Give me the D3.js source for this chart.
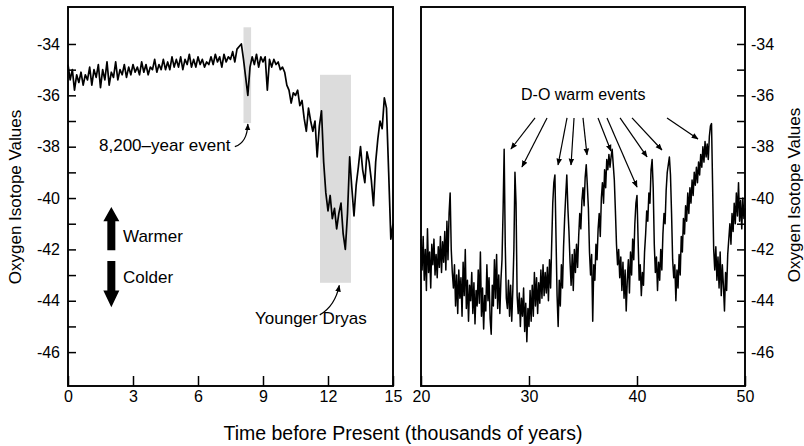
<!DOCTYPE html>
<html><head><meta charset="utf-8">
<script src="https://cdn.jsdelivr.net/npm/d3@7"></script>
<style>
html,body{margin:0;padding:0;background:#fff;}
svg{display:block;}
text{font-family:"Liberation Sans",Arial,Helvetica,sans-serif;fill:#000;}
</style>
</head><body>
<svg id="c" width="804" height="446"></svg>
<script>
// ---------- DATA ----------
const holoStart = 0, holoStep = 0.1;   // thousands of years before present
const holoValues = [
 -34.8,-35.4,-35.0,-35.8,-35.2,-35.5,-35.1,-35.6,-35.2,-35.4,
 -34.9,-35.6,-35.0,-35.3,-34.8,-35.7,-35.0,-35.4,-34.7,-35.6,
 -35.1,-35.3,-34.7,-35.4,-35.0,-35.2,-34.8,-35.3,-34.9,-35.2,
 -34.8,-35.1,-34.9,-35.2,-34.7,-35.1,-34.8,-35.2,-34.9,-35.0,
 -34.6,-35.1,-34.8,-35.0,-34.6,-35.0,-34.7,-35.0,-34.5,-34.9,
 -34.6,-34.9,-34.5,-35.0,-34.6,-34.8,-34.4,-34.9,-34.6,-34.9,
 -34.5,-34.8,-34.6,-34.9,-34.7,-34.8,-34.5,-34.8,-34.4,-34.7,
 -34.5,-34.9,-34.4,-34.7,-34.5,-34.6,-34.3,-34.7,-34.2,-34.1,
 -34.0,-34.6,-35.3,-36.0,-34.9,-34.5,-34.8,-34.4,-34.9,-34.5,
 -34.7,-34.5,-35.8,-34.6,-34.9,-34.6,-34.8,-34.7,-35.0,-34.9,
 -35.1,-35.6,-35.8,-36.3,-35.9,-36.0,-35.8,-36.4,-36.2,-36.9,
 -37.4,-36.5,-37.0,-37.4,-37.0,-38.4,-37.2,-36.6,-38.6,-39.8,
 -40.5,-39.9,-40.8,-40.4,-41.2,-40.6,-40.2,-41.4,-42.0,-40.6,
 -38.4,-39.6,-40.7,-39.5,-38.8,-38.0,-38.9,-39.4,-38.2,-38.6,
 -39.3,-40.3,-38.6,-37.7,-37.0,-37.3,-36.1,-36.5,-39.0,-41.6,
 -41.0
];
const glacStart = 20, glacStep = 0.1;
const glacValues = [
 -41.6,-42.8,-41.5,-43.2,-42.0,-43.6,-41.2,-42.9,-42.1,-43.5,
 -41.8,-42.6,-41.6,-43.0,-42.2,-43.1,-41.9,-42.7,-41.5,-42.9,
 -41.7,-42.5,-41.3,-42.8,-40.9,-42.4,-40.6,-39.8,-42.0,-42.9,
 -43.5,-42.6,-44.2,-43.0,-44.5,-42.8,-43.9,-43.1,-44.6,-42.5,
 -43.8,-42.0,-44.3,-43.2,-44.8,-43.4,-44.0,-42.9,-44.5,-43.3,
 -44.9,-43.6,-44.2,-42.8,-44.1,-42.1,-44.6,-43.5,-45.1,-43.8,
 -44.4,-42.6,-44.0,-43.1,-44.7,-45.3,-43.4,-44.2,-42.4,-43.9,
 -42.2,-44.3,-43.0,-44.5,-43.2,-42.4,-40.5,-38.1,-41.8,-43.9,
 -44.3,-43.2,-44.6,-43.4,-44.8,-43.6,-42.0,-39.0,-40.2,-43.8,
 -44.5,-43.7,-45.0,-43.9,-44.6,-43.5,-45.2,-44.1,-45.6,-44.3,
 -45.0,-43.6,-44.8,-43.4,-44.6,-42.9,-44.2,-43.1,-44.5,-43.3,
 -44.1,-42.8,-43.9,-42.6,-43.8,-42.9,-43.7,-42.7,-44.0,-42.4,
 -43.5,-41.8,-40.2,-39.4,-39.1,-41.5,-43.8,-45.0,-43.2,-44.2,
 -42.6,-43.5,-41.9,-40.8,-39.9,-39.1,-40.4,-41.3,-42.5,-43.4,
 -42.2,-43.6,-42.0,-42.9,-41.8,-42.7,-41.5,-40.6,-41.2,-40.1,
 -39.6,-40.3,-39.2,-38.7,-39.5,-40.4,-42.1,-43.0,-42.2,-44.8,
 -42.6,-43.2,-41.8,-42.4,-41.2,-40.6,-41.5,-40.0,-39.4,-40.2,
 -38.9,-39.6,-38.5,-38.9,-38.3,-38.8,-38.4,-38.1,-38.7,-39.3,
 -40.5,-41.8,-42.6,-42.0,-43.1,-42.3,-43.6,-42.5,-43.9,-42.8,
 -44.4,-43.2,-42.4,-43.7,-42.1,-43.0,-41.6,-42.4,-41.0,-40.2,
 -39.9,-41.6,-43.2,-42.6,-43.8,-42.9,-43.4,-42.1,-41.4,-40.5,
 -40.9,-39.8,-40.2,-38.9,-38.5,-39.6,-41.8,-42.9,-42.3,-43.6,
 -42.5,-43.2,-42.0,-42.8,-41.4,-40.6,-41.0,-39.7,-39.0,-38.7,
 -38.4,-39.1,-40.6,-42.4,-43.1,-42.6,-44.0,-42.8,-43.5,-42.2,
 -43.0,-41.5,-42.1,-40.8,-41.4,-40.3,-40.9,-39.8,-40.6,-39.6,
 -40.2,-39.3,-39.9,-39.0,-39.5,-38.8,-39.4,-38.6,-39.1,-38.3,
 -38.8,-38.0,-38.6,-37.8,-38.4,-37.9,-38.5,-37.6,-37.2,-37.1,
 -39.5,-42.0,-42.8,-41.9,-43.2,-42.3,-43.5,-42.1,-43.8,-42.6,
 -43.4,-44.4,-42.9,-43.6,-42.2,-41.6,-41.0,-41.8,-40.6,-41.3,
 -40.2,-41.0,-39.8,-40.7,-39.4,-40.9,-40.1,-41.2,-40.0,-40.8,
 -40.4
];
const yTickValues = [-34,-35,-36,-37,-38,-39,-40,-41,-42,-43,-44,-45,-46];
const yLabelValues = [-34,-36,-38,-40,-42,-44,-46];
const leftXTicks = [0,3,6,9,12,15];
const rightXTicks = [20,30,40,50];
const bandNames = ["8,200–year event","Younger Dryas"];
const bandStart = [8.1, 11.63];
const bandEnd = [8.45, 13.06];
const bandLow = [-37.08, -43.3];
const bandHigh = [-33.35, -35.2];
// D-O warm event targets (ka, value)
const doTargetT = [28.33,29.35,32.69,33.89,35.37,37.59,40.0,40.93,42.31,45.65];
const doTargetV = [-38.09,-38.79,-38.71,-38.71,-38.32,-38.17,-39.57,-38.4,-38.13,-37.7];
const doTailT = [30.56,31.67,33.52,34.17,35.0,36.39,37.22,38.43,39.54,42.78];

// ---------- SCALES ----------
const svg = d3.select("#c");
const y = d3.scaleLinear().domain([-47.32,-32.56]).range([386,7]);
const xL = d3.scaleLinear().domain([0,15]).range([68,393]);
const xR = d3.scaleLinear().domain([20,50]).range([421,745]);

const holo = holoValues.map((v,i)=>({t: holoStart + i*holoStep, v}));
const glac = glacValues.map((v,i)=>({t: glacStart + i*glacStep, v}));

// markers
const defs = svg.append("defs");
defs.append("marker").attr("id","ah").attr("viewBox","0 0 10 10")
  .attr("refX",9).attr("refY",5).attr("markerWidth",7).attr("markerHeight",7)
  .attr("markerUnits","userSpaceOnUse").attr("orient","auto")
  .append("path").attr("d","M0,1 L10,5 L0,9 z").attr("fill","#000");

// ---------- BANDS ----------
svg.append("g").selectAll("rect").data(bandNames).join("rect")
  .attr("x",(d,i)=>xL(bandStart[i]))
  .attr("width",(d,i)=>xL(bandEnd[i])-xL(bandStart[i]))
  .attr("y",(d,i)=>y(bandHigh[i]))
  .attr("height",(d,i)=>y(bandLow[i])-y(bandHigh[i]))
  .attr("fill","#dcdcdc");

// ---------- LINES ----------
svg.append("path").datum(holo)
  .attr("d", d3.line().x(d=>xL(d.t)).y(d=>y(d.v)))
  .attr("fill","none").attr("stroke","#000").attr("stroke-width",1.7).attr("stroke-linejoin","round");
svg.append("path").datum(glac)
  .attr("d", d3.line().x(d=>xR(d.t)).y(d=>y(d.v)))
  .attr("fill","none").attr("stroke","#000").attr("stroke-width",1.5).attr("stroke-linejoin","round");

// ---------- AXES ----------
const fmt = d => (yLabelValues.includes(d) ? String(d) : "");
function styleAxis(g){
  g.select(".domain").remove();
  g.selectAll(".tick line").attr("stroke","#000").attr("stroke-width",1.5);
  g.selectAll("text").attr("font-family","Liberation Sans, Arial, sans-serif").attr("font-size",16).attr("fill","#000");
}
svg.append("g").attr("transform","translate(68,0)")
  .call(d3.axisLeft(y).tickValues(yTickValues).tickFormat(fmt).tickSizeInner(-8).tickSizeOuter(0).tickPadding(8))
  .call(styleAxis);
svg.append("g").attr("transform","translate(745,0)")
  .call(d3.axisRight(y).tickValues(yTickValues).tickFormat(fmt).tickSizeInner(-8).tickSizeOuter(0).tickPadding(6))
  .call(styleAxis);
svg.append("g").attr("transform","translate(0,386)")
  .call(d3.axisBottom(xL).tickValues(leftXTicks).tickFormat(d=>String(d)).tickSizeInner(-10).tickSizeOuter(0).tickPadding(5))
  .call(styleAxis);
svg.append("g").attr("transform","translate(0,386)")
  .call(d3.axisBottom(xR).tickValues(rightXTicks).tickFormat(d=>String(d)).tickSizeInner(-10).tickSizeOuter(0).tickPadding(5))
  .call(styleAxis);

// frames
[[xL,0,15],[xR,20,50]].forEach(([sx,a,b])=>{
  svg.append("rect").attr("x",sx(a)).attr("y",y(-32.56)).attr("width",sx(b)-sx(a)).attr("height",y(-47.32)-y(-32.56))
    .attr("fill","none").attr("stroke","#000").attr("stroke-width",1.9);
});

// ---------- TITLES ----------
svg.append("text").attr("x",403).attr("y",440).attr("text-anchor","middle").attr("font-size",19.5)
  .text("Time before Present (thousands of years)");
svg.append("text").attr("transform","translate(21,197) rotate(-90)").attr("text-anchor","middle").attr("font-size",17)
  .text("Oxygen Isotope Values");
svg.append("text").attr("transform","translate(800,195) rotate(-90)").attr("text-anchor","middle").attr("font-size",17)
  .text("Oxygen Isotope Values");

// ---------- ANNOTATIONS ----------
svg.append("text").attr("x",99).attr("y",151).attr("font-size",17).text(bandNames[0]);
svg.append("path").attr("d",`M${xL(7.7)},${y(-38.0)} Q${xL(8.27)},${y(-37.85)} ${xL(8.3)},${y(-37.12)}`)
  .attr("fill","none").attr("stroke","#000").attr("stroke-width",1.2).attr("marker-end","url(#ah)");
svg.append("text").attr("x",255).attr("y",324).attr("font-size",17).text(bandNames[1]);
svg.append("path").attr("d",`M${xL(11.62)},${y(-44.55)} Q${xL(12.33)},${y(-44.2)} ${xL(12.52)},${y(-43.4)}`)
  .attr("fill","none").attr("stroke","#000").attr("stroke-width",1.2).attr("marker-end","url(#ah)");

// Warmer / Colder arrows
const ax = xL(2.0);
svg.append("path").attr("d",`M${ax-4},${y(-42.03)} L${ax-4},${y(-40.9)} L${ax-8},${y(-40.9)} L${ax},${y(-40.35)} L${ax+8},${y(-40.9)} L${ax+4},${y(-40.9)} L${ax+4},${y(-42.03)} Z`).attr("fill","#000");
svg.append("path").attr("d",`M${ax-4},${y(-42.45)} L${ax-4},${y(-43.6)} L${ax-8},${y(-43.6)} L${ax},${y(-44.25)} L${ax+8},${y(-43.6)} L${ax+4},${y(-43.6)} L${ax+4},${y(-42.45)} Z`).attr("fill","#000");
svg.append("text").attr("x",123).attr("y",242).attr("font-size",17).text("Warmer");
svg.append("text").attr("x",123).attr("y",283).attr("font-size",17).text("Colder");

// D-O warm events
svg.append("text").attr("x",521).attr("y",100).attr("font-size",16).text("D-O warm events");
svg.append("g").selectAll("line").data(doTargetT).join("line")
  .attr("x1",(d,i)=>xR(doTailT[i])).attr("y1",y(-36.88))
  .attr("x2",(d,i)=>xR(d)).attr("y2",(d,i)=>y(doTargetV[i]))
  .attr("stroke","#000").attr("stroke-width",1.2).attr("marker-end","url(#ah)");
</script>
</body></html>
